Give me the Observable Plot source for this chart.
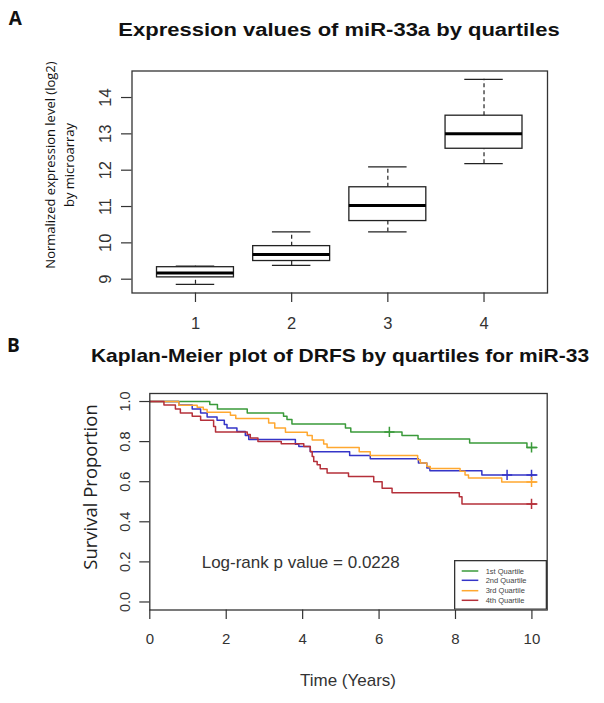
<!DOCTYPE html>
<html><head><meta charset="utf-8">
<script src="https://cdn.jsdelivr.net/npm/d3@7"></script>
<script src="https://cdn.jsdelivr.net/npm/@observablehq/plot@0.6"></script>
<style>
html,body{margin:0;padding:0;background:#fff;overflow:hidden;}
#wrap{position:relative;width:604px;height:703px;}
#wrap svg{position:absolute;left:0;top:0;}
.lbl{position:absolute;white-space:nowrap;color:#111;line-height:1;}
.title{font-family:"Liberation Sans",Arial,sans-serif;font-weight:bold;}
.panel{font-family:"Open Sans",sans-serif;font-weight:bold;font-size:19px;}
</style></head><body><div id="wrap"></div>
<script>
// ---- Panel A: boxplot data ----
const quartiles   = [1, 2, 3, 4];
const whiskerLow  = [8.86, 9.38, 10.30, 12.18];
const boxLow      = [9.05, 9.50, 10.60, 12.59];
const medianVal   = [9.17, 9.68, 11.03, 13.00];
const boxHigh     = [9.33, 9.91, 11.53, 13.50];
const whiskerHigh = [9.36, 10.30, 12.09, 14.50];
const exprTicks = [9, 10, 11, 12, 13, 14];
const quartileTicks = [1, 2, 3, 4];

// ---- Panel B: Kaplan-Meier data ----
const groupNames  = ["1st Quartile", "2nd Quartile", "3rd Quartile", "4th Quartile"];
const groupColors = ["#3a9a3a", "#3535c8", "#ffa830", "#b5303a"];
const q1Times = [0, 1.57, 1.77, 2.55, 3.50, 3.59, 3.72, 5.12, 5.26, 6.60, 7.02, 8.37, 9.87];
const q1Surv  = [1, 0.985, 0.963, 0.943, 0.926, 0.910, 0.888, 0.868, 0.848, 0.830, 0.813, 0.793, 0.771];
const q1Censor = [6.27, 9.99];
const q2Times = [0, 0.76, 1.11, 1.33, 1.50, 1.76, 1.95, 2.02, 2.28, 2.50, 2.59, 3.81, 3.90, 4.20, 5.23, 5.77, 7.03, 7.25, 7.33, 8.69];
const q2Surv  = [1, 0.983, 0.963, 0.943, 0.923, 0.906, 0.885, 0.868, 0.851, 0.830, 0.810, 0.787, 0.776, 0.749, 0.731, 0.714, 0.693, 0.668, 0.655, 0.634];
const q2Censor = [9.35, 9.99];
const q3Times = [0, 0.76, 1.24, 1.40, 1.50, 2.11, 2.25, 3.11, 3.27, 3.55, 4.12, 4.25, 4.55, 4.64, 5.48, 5.77, 7.01, 7.08, 7.25, 7.34, 8.12, 8.25, 8.34, 9.21];
const q3Surv  = [1, 0.982, 0.972, 0.960, 0.947, 0.931, 0.915, 0.893, 0.868, 0.847, 0.830, 0.808, 0.788, 0.771, 0.749, 0.731, 0.709, 0.693, 0.676, 0.666, 0.652, 0.634, 0.618, 0.599];
const q3Censor = [9.99];
const q4Times = [0, 0.37, 0.67, 0.80, 1.11, 1.33, 1.67, 1.72, 2.55, 2.63, 2.83, 3.44, 4.03, 4.20, 4.25, 4.29, 4.38, 4.46, 4.64, 5.20, 5.86, 6.08, 6.34, 8.10, 8.17];
const q4Surv  = [1, 0.983, 0.963, 0.943, 0.926, 0.906, 0.876, 0.848, 0.835, 0.818, 0.801, 0.789, 0.776, 0.751, 0.726, 0.701, 0.684, 0.664, 0.644, 0.626, 0.600, 0.567, 0.545, 0.525, 0.489];
const q4Censor = [9.99];
const lastTime = 10.13;
const timeTicks = [0, 2, 4, 6, 8, 10];
const survTicks = [0, 0.2, 0.4, 0.6, 0.8, 1.0];
const pValueText = "Log-rank p value = 0.0228";

const groups = [
  {times: q1Times, surv: q1Surv, censor: q1Censor},
  {times: q2Times, surv: q2Surv, censor: q2Censor},
  {times: q3Times, surv: q3Surv, censor: q3Censor},
  {times: q4Times, surv: q4Surv, censor: q4Censor}
];

const wrap = document.getElementById("wrap");
const font = "'Liberation Sans', Arial, sans-serif";

// ---- Panel A ----
const boxData = quartiles.map((q, i) => ({q, wl: whiskerLow[i], bl: boxLow[i], med: medianVal[i], bh: boxHigh[i], wh: whiskerHigh[i]}));
const halfBox = 0.4, halfStaple = 0.2;
const plotA = Plot.plot({
  width: 604, height: 703,
  marginLeft: 131.5, marginRight: 57, marginTop: 70.5, marginBottom: 410.5,
  style: {background: "transparent", overflow: "visible", fontFamily: font, color: "#333"},
  x: {domain: [0.34, 4.66], axis: null},
  y: {domain: [8.62, 14.73], axis: null},
  marks: [
    Plot.ruleX(boxData, {x: "q", y1: "bh", y2: "wh", stroke: "#222", strokeWidth: 1.2, strokeDasharray: "4,3"}),
    Plot.ruleX(boxData, {x: "q", y1: "wl", y2: "bl", stroke: "#222", strokeWidth: 1.2, strokeDasharray: "4,3"}),
    Plot.ruleY(boxData, {y: "wh", x1: d => d.q - halfStaple, x2: d => d.q + halfStaple, stroke: "#222", strokeWidth: 1.3}),
    Plot.ruleY(boxData, {y: "wl", x1: d => d.q - halfStaple, x2: d => d.q + halfStaple, stroke: "#222", strokeWidth: 1.3}),
    Plot.rect(boxData, {x1: d => d.q - halfBox, x2: d => d.q + halfBox, y1: "bl", y2: "bh", fill: "white", stroke: "#222", strokeWidth: 1.3}),
    Plot.ruleY(boxData, {y: "med", x1: d => d.q - halfBox, x2: d => d.q + halfBox, stroke: "#000", strokeWidth: 3}),
    Plot.frame({stroke: "#333", strokeWidth: 1.3}),
    Plot.axisX({ticks: quartileTicks, tickFormat: d3.format("d"), tickSize: 9.5, tickPadding: 14.5, fontSize: 16.5, label: null, stroke: "#333", strokeWidth: 1.2, fill: "#333"}),
    Plot.axisY({ticks: exprTicks, tickFormat: d3.format("d"), tickSize: 10.5, tickPadding: 11, tickRotate: -90, fontSize: 16.5, label: null, stroke: "#333", strokeWidth: 1.2, fill: "#333"})
  ]
});
wrap.appendChild(plotA);

// ---- Panel B ----
const kmData = [];
const censorData = [];
groups.forEach((g, gi) => {
  g.times.forEach((t, i) => kmData.push({t, s: g.surv[i], g: groupNames[gi]}));
  kmData.push({t: lastTime, s: g.surv[g.surv.length - 1], g: groupNames[gi]});
  g.censor.forEach(ct => {
    let s = 1;
    g.times.forEach((t, i) => { if (t <= ct) s = g.surv[i]; });
    censorData.push({t: ct, s, g: groupNames[gi]});
  });
});
const plotB = Plot.plot({
  width: 604, height: 703,
  marginLeft: 149.3, marginRight: 57.3, marginTop: 393, marginBottom: 93.5,
  style: {background: "transparent", overflow: "visible", fontFamily: font, color: "#333"},
  x: {domain: [0, 10.4], axis: null},
  y: {domain: [-0.04, 1.04], axis: null},
  color: {domain: groupNames, range: groupColors},
  marks: [
    Plot.line(kmData, {x: "t", y: "s", z: "g", stroke: "g", curve: "step-after", strokeWidth: 1.5}),
    Plot.dot(censorData, {x: "t", y: "s", stroke: "g", symbol: "plus", r: 3.4, strokeWidth: 1.5}),
    Plot.frame({stroke: "#333", strokeWidth: 1.3}),
    Plot.axisX({ticks: timeTicks, tickFormat: d3.format("d"), tickSize: 9.5, tickPadding: 14, fontSize: 15, label: null, stroke: "#333", strokeWidth: 1.2, fill: "#333"}),
    Plot.axisY({ticks: survTicks, tickFormat: d3.format(".1f"), tickSize: 10, tickPadding: 10.3, tickRotate: -90, fontSize: 14.5, label: null, stroke: "#333", strokeWidth: 1.2, fill: "#333"})
  ]
});
wrap.appendChild(plotB);

// ---- Text overlays ----
function addLabel(text, x, y, css, cls) {
  const d = document.createElement("div");
  d.className = "lbl " + (cls || "");
  d.textContent = text;
  d.style.left = x + "px";
  d.style.top = y + "px";
  Object.assign(d.style, css || {});
  wrap.appendChild(d);
  return d;
}
addLabel("A", 15.4, 18.3, {transform: "translate(-50%,-50%)"}, "panel");
addLabel("B", 13.5, 345, {transform: "translate(-50%,-50%)"}, "panel");
addLabel("Expression values of miR-33a by quartiles", 339, 30, {fontSize: "22px", transform: "translate(-50%,-50%) scaleY(0.85)"}, "title");
addLabel("Kaplan-Meier plot of DRFS by quartiles for miR-33", 340, 355, {fontSize: "21px", transform: "translate(-50%,-50%) scaleY(0.87)"}, "title");
addLabel("Normalized expression level (log2)", 50, 165, {fontFamily: "'Open Sans',sans-serif", fontSize: "13px", transform: "translate(-50%,-50%) rotate(-90deg)"});
addLabel("by microarray", 69, 165, {fontFamily: "'Open Sans',sans-serif", fontSize: "13px", transform: "translate(-50%,-50%) rotate(-90deg)"});
addLabel("Survival Proportion", 90, 487, {fontFamily: "'Open Sans',sans-serif", fontSize: "18.5px", color: "#222", transform: "translate(-50%,-50%) rotate(-90deg)"});
addLabel("Time (Years)", 348, 680, {fontFamily: font, fontSize: "17px", color: "#333", transform: "translate(-50%,-50%)"});
addLabel(pValueText, 201.7, 561.7, {fontFamily: font, fontSize: "17px", color: "#333", transform: "translateY(-50%)"});

// ---- Legend (small SVG) ----
const rowY = [11, 20.3, 30.7, 40.3];
const leg = d3.create("svg")
  .attr("width", 93).attr("height", 50)
  .style("left", "454px").style("top", "560px").style("background", "white");
leg.append("rect").attr("x", 0.65).attr("y", 0.65).attr("width", 91.7).attr("height", 48.5)
  .attr("fill", "white").attr("stroke", "#333").attr("stroke-width", 1.3);
groupNames.forEach((name, i) => {
  leg.append("line").attr("x1", 7.7).attr("x2", 24.3).attr("y1", rowY[i]).attr("y2", rowY[i])
    .attr("stroke", groupColors[i]).attr("stroke-width", 1.5);
  leg.append("text").attr("x", 31.7).attr("y", rowY[i]).attr("dy", "0.35em")
    .attr("font-family", font).attr("font-size", 7.5).attr("fill", "#444").text(name);
});
wrap.appendChild(leg.node());
</script></body></html>
